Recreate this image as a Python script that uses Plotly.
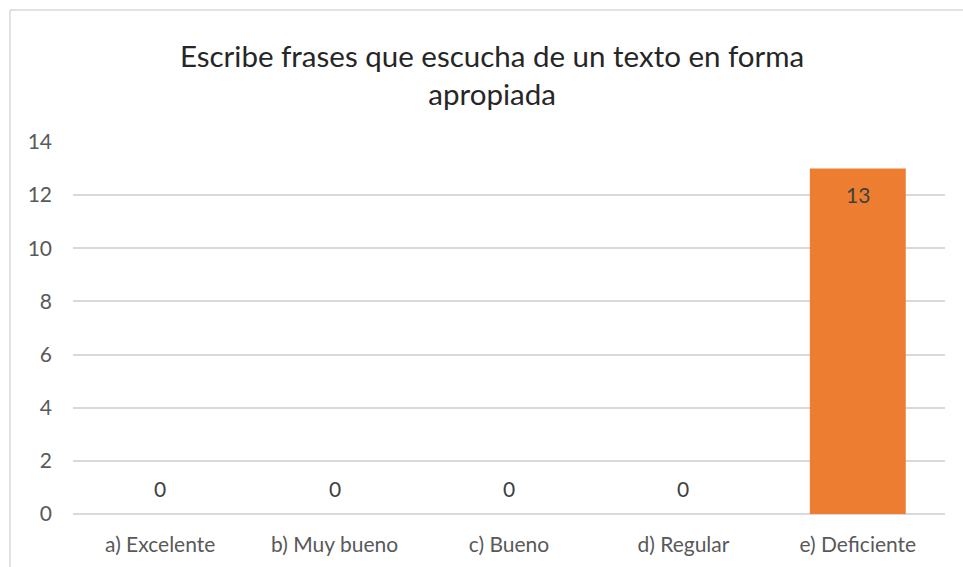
import plotly.graph_objects as go

categories = ["a) Excelente", "b) Muy bueno", "c) Bueno", "d) Regular", "e) Deficiente"]
values = [0, 0, 0, 0, 13]
title_text = "Escribe frases que escucha de un texto en forma<br>apropiada"
y_ticks = [0, 2, 4, 6, 8, 10, 12, 14]

W, H = 963, 567
L, R, T, B = 73, 18, 142, 53
pw, ph = W - L - R, H - T - B

def px_x(p):
    return (p - L) / pw

def px_y(p):
    return (H - B - p) / ph

fig = go.Figure()
fig.add_trace(go.Bar(
    x=categories, y=values,
    marker=dict(color="#ED7D31", line=dict(width=0)),
    width=0.55,
    hoverinfo="x+y",
))

for c, v in zip(categories, values):
    fig.add_annotation(
        x=c, y=v, xref="x", yref="y", text=str(v), showarrow=False,
        yanchor="middle", yshift=26 if v == 0 else -26,
        font=dict(family="Lato", size=21, color="#404040"),
    )

fig.update_layout(
    width=W, height=H,
    margin=dict(l=L, r=R, t=T, b=B),
    paper_bgcolor="white", plot_bgcolor="white",
    showlegend=False,
    font=dict(family="Lato", color="#595959"),
    title=dict(text=title_text, x=0.511, xanchor="center", y=1 - 67 / H, yanchor="middle",
               yref="container", font=dict(family="Lato", size=29.5, color="#262626")),
    xaxis=dict(showgrid=False, showline=False, ticks="", ticklabelstandoff=16,
               tickfont=dict(size=21, color="#595959")),
    yaxis=dict(range=[0, 14], tickvals=y_ticks, showgrid=True, gridcolor="#d9d9d9", gridwidth=1.5,
               zeroline=True, zerolinecolor="#d9d9d9", zerolinewidth=1.5, showline=False, ticks="",
               ticklabelstandoff=20, tickfont=dict(size=21, color="#595959")),
    shapes=[
        dict(type="line", xref="paper", yref="paper", x0=px_x(10), x1=px_x(W + 5), y0=px_y(10), y1=px_y(10),
             line=dict(color="#d9d9d9", width=1.5)),
        dict(type="line", xref="paper", yref="paper", x0=px_x(10), x1=px_x(10), y0=px_y(10), y1=px_y(H + 5),
             line=dict(color="#d9d9d9", width=1.5)),
    ],
)

fig.write_html("out.html", config={"displayModeBar": False},
               post_script="document.body.style.margin='0';")
